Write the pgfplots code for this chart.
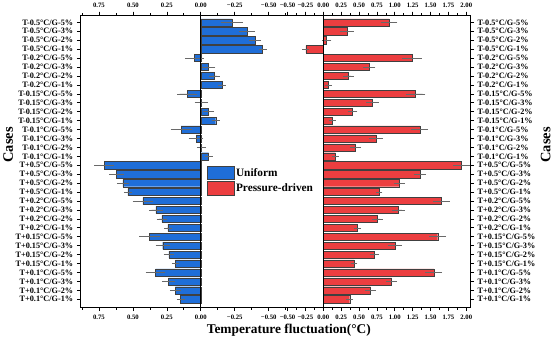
\documentclass[border=0pt]{standalone}
\usepackage{fontspec}
\setmainfont{Liberation Serif}
\usepackage{pgfplots}
\pgfplotsset{compat=1.18}
\usepackage{pgfplotstable}
\definecolor{bluebar}{RGB}{31,110,216}
\definecolor{redbar}{RGB}{236,62,64}
\definecolor{errc}{RGB}{105,105,105}

\pgfplotstableread{
y x e
0 0.149 0.01
1 0.187 0.02
2 0.237 0.03
3 0.333 0.053
4 0.187 0.008
5 0.235 0.018
6 0.28 0.033
7 0.376 0.058
8 0.242 0.008
9 0.286 0.02
10 0.331 0.03
11 0.427 0.055
12 0.536 0.01
13 0.573 0.025
14 0.62 0.035
15 0.71 0.055
16 -0.058 0.01
17 -0.005 0.015
18 0.035 0.035
19 0.145 0.057
20 -0.11 0.01
21 -0.058 0.02
22 -0.005 0.03
23 0.10 0.055
24 -0.155 0.01
25 -0.10 0.02
26 -0.058 0.03
27 0.048 0.05
28 -0.455 0.01
29 -0.40 0.025
30 -0.34 0.04
31 -0.23 0.06
}\bluedata

\pgfplotstableread{
y x e
0 0.37 0.01
1 0.66 0.035
2 0.955 0.04
3 1.545 0.08
4 0.43 0.01
5 0.715 0.03
6 1.00 0.06
7 1.60 0.08
8 0.48 0.01
9 0.76 0.035
10 1.05 0.05
11 1.65 0.08
12 0.78 0.01
13 1.065 0.04
14 1.35 0.05
15 1.93 0.08
16 0.17 0.01
17 0.45 0.04
18 0.74 0.06
19 1.35 0.08
20 0.125 0.01
21 0.41 0.03
22 0.69 0.05
23 1.29 0.1
24 0.068 0.01
25 0.355 0.035
26 0.64 0.05
27 1.24 0.1
28 -0.245 0.01
29 0.045 0.03
30 0.33 0.06
31 0.92 0.08
}\reddata

\pgfplotsset{
  common/.style={
    scale only axis, width=379pt, height=284pt,
    ymin=-0.92, ymax=31.8,
    axis line style={line width=0.9pt},
    tick style={line width=0.6pt, black},
    tick align=outside, major tick length=3.5pt, minor tick length=2pt,
    xticklabel style={font=\bfseries\fontsize{6.5}{7.5}\selectfont},
    yticklabel style={font=\bfseries\fontsize{8}{9.6}\selectfont},
  },
  caselabels/.style={
    ytick={0,...,31},
    yticklabels={T+0.1°C/G-1\%,T+0.1°C/G-2\%,T+0.1°C/G-3\%,T+0.1°C/G-5\%,
      T+0.15°C/G-1\%,T+0.15°C/G-2\%,T+0.15°C/G-3\%,T+0.15°C/G-5\%,
      T+0.2°C/G-1\%,T+0.2°C/G-2\%,T+0.2°C/G-3\%,T+0.2°C/G-5\%,
      T+0.5°C/G-1\%,T+0.5°C/G-2\%,T+0.5°C/G-3\%,T+0.5°C/G-5\%,
      T-0.1°C/G-1\%,T-0.1°C/G-2\%,T-0.1°C/G-3\%,T-0.1°C/G-5\%,
      T-0.15°C/G-1\%,T-0.15°C/G-2\%,T-0.15°C/G-3\%,T-0.15°C/G-5\%,
      T-0.2°C/G-1\%,T-0.2°C/G-2\%,T-0.2°C/G-3\%,T-0.2°C/G-5\%,
      T-0.5°C/G-1\%,T-0.5°C/G-2\%,T-0.5°C/G-3\%,T-0.5°C/G-5\%},
  },
  bluex/.style={x dir=reverse, xmin=-1.985, xmax=0.886,
    xtick={-0.5,-0.25,0,0.25,0.5,0.75},
    xticklabels={−0.50,−0.25,0.00,0.25,0.50,0.75},
    minor xtick={-0.625,-0.375,-0.125,0.125,0.375,0.625,0.875}},
  redx/.style={xmin=-3.396, xmax=2.058,
    xtick={-0.5,-0.25,0,0.25,0.5,0.75,1,1.25,1.5,1.75,2},
    xticklabels={−0.50,−0.25,0.00,0.25,0.50,0.75,1.00,1.25,1.50,1.75,2.00},
    minor xtick={-0.375,-0.125,0.125,0.375,0.625,0.875,1.125,1.375,1.625,1.875}},
  mylegend/.style={legend image code/.code={\draw[##1] (0pt,-6.5pt) rectangle (26pt,6.5pt);}},
  ebars/.style={error bars/.cd, x dir=both, x explicit,
    error bar style={errc, line width=0.5pt},
    error mark options={errc, mark size=2.6pt, line width=0.5pt}, /pgfplots/.cd},
}

\begin{document}
\begin{tikzpicture}
% blue (Uniform) axis
\begin{axis}[common, bluex, caselabels,
  xtick pos=both, xticklabel pos=lower,
  ytick pos=left, yticklabel pos=left,
  ylabel={Cases},
  ylabel style={font=\bfseries\fontsize{14}{16}\selectfont, at={(axis description cs:-0.185,0.556)}, anchor=center},
  xlabel={Temperature fluctuation(°C)},
  xlabel style={font=\bfseries\fontsize{13}{15}\selectfont, xshift=13pt, yshift=2pt},
]
\addplot[xbar, bar width=7pt, fill=bluebar, draw=black!75, line width=0.4pt, ebars]
  table[x=x, y=y, x error=e] {\bluedata};
\addplot[black, line width=0.8pt, forget plot] coordinates {(0,-0.92) (0,31.8)};
\end{axis}
% blue top labels
\begin{axis}[common, bluex, xtick pos=upper, xticklabel pos=upper, ytick=\empty]
\addplot[draw=none] coordinates {(0,0)};
\end{axis}
% red (Pressure-driven) axis
\begin{axis}[common, redx, caselabels,
  xtick pos=both, xticklabel pos=lower,
  ytick pos=right, yticklabel pos=right,
  ylabel={Cases},
  ylabel style={font=\bfseries\fontsize{14}{16}\selectfont, at={(axis description cs:1.193,0.556)}, anchor=center},
  legend style={at={(axis description cs:0.317,0.492)}, anchor=north west,
    draw=none, fill=none, row sep=1.5pt,
    font=\bfseries\fontsize{11}{13}\selectfont,
    nodes={inner sep=1.5pt}},
  legend cell align=left,
]
\addlegendimage{fill=bluebar, draw=black!75, line width=0.4pt, mylegend}
\addlegendentry{Uniform}
\addplot[xbar, bar width=7pt, fill=redbar, draw=black!75, line width=0.4pt, mylegend, ebars]
  table[x=x, y=y, x error=e] {\reddata};
\addlegendentry{Pressure-driven}
\addplot[black, line width=0.8pt, forget plot] coordinates {(0,-0.92) (0,31.8)};
\end{axis}
% red top labels
\begin{axis}[common, redx, xtick pos=upper, xticklabel pos=upper, ytick=\empty]
\addplot[draw=none] coordinates {(0,0)};
\end{axis}
\end{tikzpicture}
\end{document}
